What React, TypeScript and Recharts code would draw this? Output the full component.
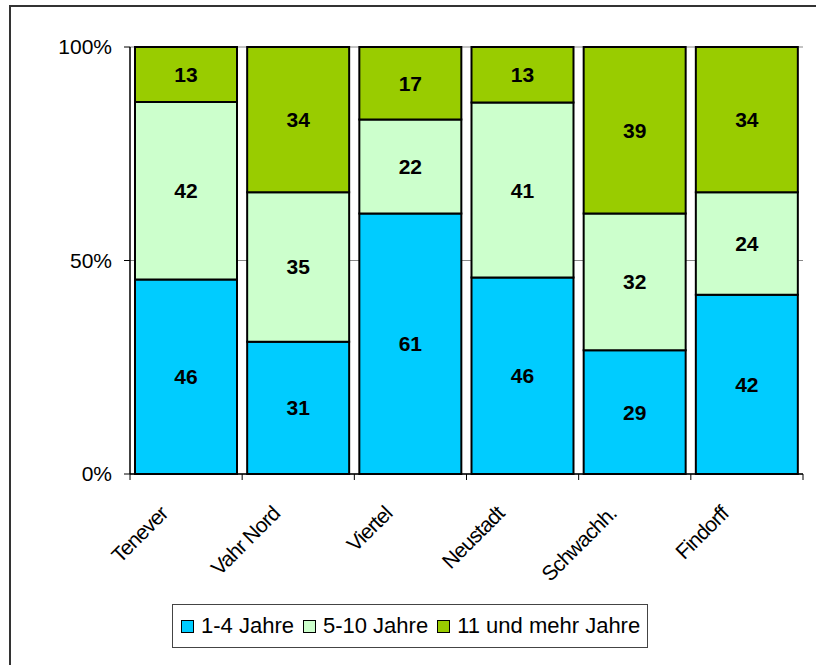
import { Bar, BarChart, CartesianGrid, LabelList, XAxis, YAxis } from 'recharts'

const districts = ['Tenever', 'Vahr Nord', 'Viertel', 'Neustadt', 'Schwachh.', 'Findorff']
const short = [46, 31, 61, 46, 29, 42]
const middle = [42, 35, 22, 41, 32, 24]
const long = [13, 34, 17, 13, 39, 34]
const yTicks = [0, 0.5, 1]

const seriesNames = ['1-4 Jahre', '5-10 Jahre', '11 und mehr Jahre']
const seriesColors = ['#00CCFF', '#CCFFCC', '#99CC00']

const data = districts.map((name, i) => ({
  name,
  short: short[i],
  middle: middle[i],
  long: long[i],
}))

const plotLeft = 130
const plotRight = 803
const step = (plotRight - plotLeft) / districts.length
const font = 'Arial, "Liberation Sans", sans-serif'

function XTick(props: any) {
  const { x, y, payload, index } = props
  const left = x - step / 2
  return (
    <g>
      <line x1={left} x2={left} y1={y} y2={y + 6} stroke="#000" />
      {index === districts.length - 1 && (
        <line x1={left + step} x2={left + step} y1={y} y2={y + 6} stroke="#000" />
      )}
      <text
        transform={`translate(${x - 17}, ${y + 41}) rotate(-45)`}
        textAnchor="end"
        fontSize={21}
        fontFamily={font}
        fill="#000"
        letterSpacing={-0.8}
      >
        {payload.value}
      </text>
    </g>
  )
}

export default function App() {
  return (
    <div style={{ position: 'fixed', left: 0, top: 0, width: 816, height: 665, background: '#fff', overflow: 'hidden' }}>
      <div
        style={{
          position: 'absolute',
          left: 9,
          top: 5,
          width: 900,
          height: 800,
          borderLeft: '2px solid #333',
          borderTop: '2px solid #333',
        }}
      />
      <div style={{ position: 'absolute', left: 0, top: 0 }}>
        <BarChart
          width={816}
          height={665}
          data={data}
          stackOffset="expand"
          barCategoryGap={5}
          margin={{ top: 47, right: 13, left: 70, bottom: 0 }}
        >
          <CartesianGrid vertical={false} stroke="#888" />
          <XAxis
            dataKey="name"
            height={191}
            axisLine={{ stroke: '#000', strokeWidth: 1.5 }}
            tickLine={false}
            tickSize={0}
            tickMargin={0}
            interval={0}
            tick={<XTick />}
          />
          <YAxis
            width={60}
            domain={[0, 1]}
            ticks={yTicks}
            tickFormatter={(v: number) => `${Math.round(v * 100)}%`}
            axisLine={{ stroke: '#000', strokeWidth: 1.5 }}
            tickLine={{ stroke: '#000' }}
            tickMargin={12}
            tick={{ fontSize: 21, fontFamily: font, fill: '#000' }}
          />
          <YAxis
            yAxisId="frame"
            orientation="right"
            width={0}
            domain={[0, 1]}
            tick={false}
            tickLine={false}
            axisLine={{ stroke: '#999', strokeWidth: 1.5 }}
          />
          {(['short', 'middle', 'long'] as const).map((key, i) => (
            <Bar
              key={key}
              dataKey={key}
              stackId="a"
              fill={seriesColors[i]}
              stroke="#000"
              strokeWidth={2}
              isAnimationActive={false}
            >
              <LabelList
                dataKey={key}
                position="center"
                fill="#000"
                fontSize={21}
                fontWeight="bold"
                fontFamily={font}
              />
            </Bar>
          ))}
        </BarChart>
      </div>
      <div
        style={{
          position: 'absolute',
          left: 172,
          top: 604,
          width: 476,
          height: 44,
          boxSizing: 'border-box',
          border: '1px solid #444',
          display: 'flex',
          alignItems: 'center',
          paddingLeft: 8,
          fontFamily: font,
          fontSize: 22,
          color: '#000',
          whiteSpace: 'nowrap',
          overflow: 'visible',
        }}
      >
        {seriesNames.map((name, i) => (
          <span key={name} style={{ display: 'flex', alignItems: 'center', marginRight: 9, flexShrink: 0 }}>
            <span
              style={{
                display: 'inline-block',
                width: 11,
                height: 11,
                background: seriesColors[i],
                border: '1.5px solid #000',
                marginRight: 7,
                flexShrink: 0,
              }}
            />
            {name}
          </span>
        ))}
      </div>
    </div>
  )
}
